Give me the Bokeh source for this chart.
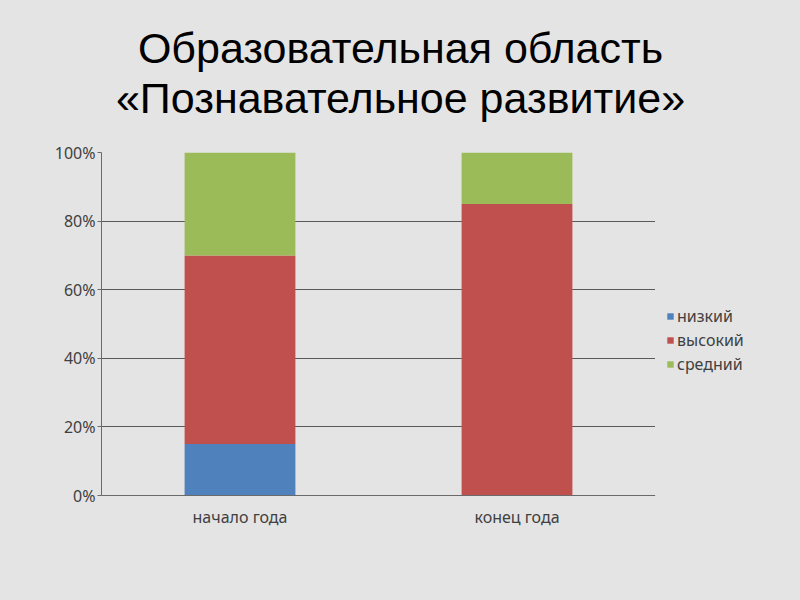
from bokeh.plotting import figure
from bokeh.layouts import column, row
from bokeh.models import Legend, LegendItem, NumeralTickFormatter, FixedTicker
from bokeh.core.properties import value
from bokeh.embed import file_html
from bokeh.resources import INLINE

categories = ["начало года", "конец года"]
series = ["низкий", "высокий", "средний"]
nizkiy = [0.15, 0.0]
vysokiy = [0.55, 0.85]
sredniy = [0.30, 0.15]
colors = ["#4F81BD", "#C0504D", "#9BBB59"]
y_ticks = [0, 0.2, 0.4, 0.6, 0.8, 1.0]
title_lines = ["Образовательная область", "«Познавательное развитие»"]

data = {"cat": categories, "низкий": nizkiy, "высокий": vysokiy, "средний": sredniy}

bg = "#e4e4e4"
font = "Noto Sans"
txt = "#404040"


def bare(fig):
    fig.background_fill_color = bg
    fig.border_fill_color = bg
    fig.outline_line_color = None
    fig.xgrid.grid_line_color = None
    fig.ygrid.grid_line_color = None


# ---- title strip ----
pt = figure(width=800, height=132, x_range=(0, 800), y_range=(132, 0),
            x_axis_location=None, y_axis_location=None,
            output_backend="svg", toolbar_location=None, min_border=0)
bare(pt)
pt.text(x=[400, 400], y=[47, 97], text=title_lines, text_font=value("Liberation Sans"),
        text_font_size="43px", text_align="center", text_baseline="alphabetic",
        text_color="#000000")

# ---- main chart ----
p = figure(x_range=categories, y_range=(0, 1), width=655, height=468,
           output_backend="svg", toolbar_location=None,
           min_border_left=101, min_border_right=0, min_border_top=20, min_border_bottom=105)
p.background_fill_color = bg
p.border_fill_color = bg
p.outline_line_color = None
p.x_range.range_padding = 0

rs = p.vbar_stack(series, x="cat", width=0.4, color=colors, line_color=None, source=data)

p.yaxis.ticker = FixedTicker(ticks=y_ticks)
p.yaxis.formatter = NumeralTickFormatter(format="0%")
p.yaxis.major_label_text_font = font
p.yaxis.major_label_text_font_size = "16px"
p.yaxis.major_label_text_color = txt
p.yaxis.axis_line_color = "#6a6a6a"
p.yaxis.major_tick_line_color = "#6a6a6a"
p.yaxis.major_tick_in = 0
p.yaxis.major_tick_out = 4
p.yaxis.minor_tick_line_color = None
p.yaxis.major_label_standoff = 2

p.xaxis.major_label_text_font = font
p.xaxis.major_label_text_font_size = "16px"
p.xaxis.major_label_text_color = txt
p.xaxis.axis_line_color = "#6a6a6a"
p.xaxis.major_tick_line_color = None
p.xaxis.major_label_standoff = 4

p.xgrid.grid_line_color = None
p.ygrid.ticker = FixedTicker(ticks=y_ticks)
p.ygrid.grid_line_color = "#5a5a5a"
p.ygrid.grid_line_width = 1

# ---- legend strip ----
pl = figure(width=145, height=468, x_range=(0, 145), y_range=(0, 468),
            x_axis_location=None, y_axis_location=None,
            output_backend="svg", toolbar_location=None, min_border=0)
bare(pl)
# legend proxies placed outside the visible range
proxies = [pl.vbar(x=[-50], top=[-50], width=1, color=c, line_color=None) for c in colors]
items = [LegendItem(label=s, renderers=[r]) for s, r in zip(series, proxies)]
legend = Legend(items=items, location=(11, 120), glyph_width=8, glyph_height=8,
                label_standoff=3, spacing=2, label_height=18, padding=0, margin=0,
                border_line_color=None, background_fill_alpha=0,
                label_text_font=font, label_text_font_size="16px", label_text_color=txt)
pl.add_layout(legend, "center")

inner = row(p, pl, styles={"background-color": bg})
layout = column(pt, inner, styles={"background-color": bg})
open("out.html", "w").write(file_html(layout, INLINE))
